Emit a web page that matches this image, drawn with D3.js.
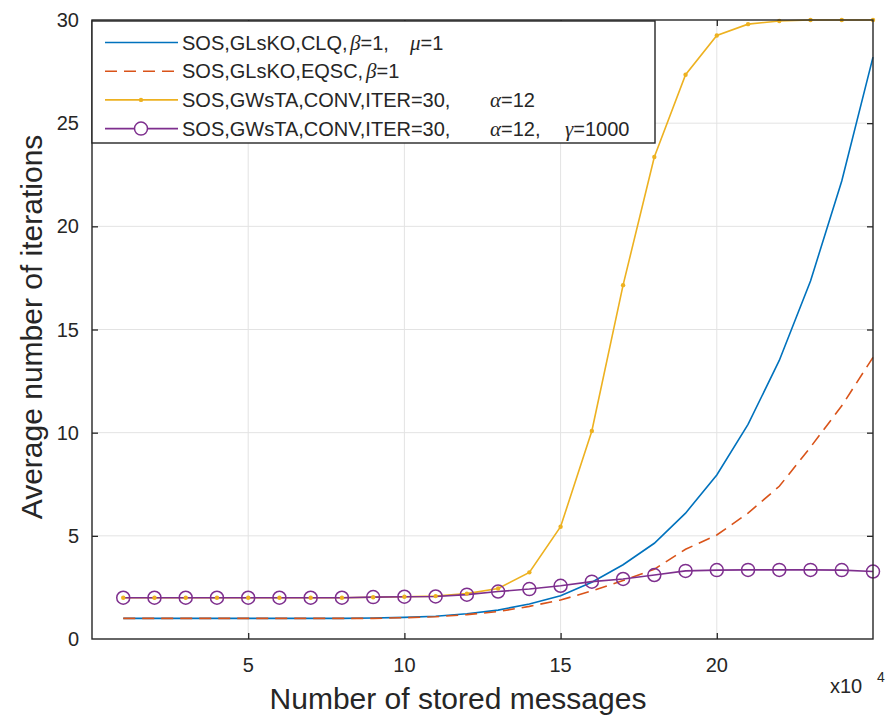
<!DOCTYPE html>
<html>
<head>
<meta charset="utf-8">
<script src="https://cdn.jsdelivr.net/npm/d3@7"></script>
<style>
  body { margin: 0; background: #fff; }
  text { font-family: "Liberation Sans", Arial, sans-serif; fill: #262626; }
  .greek { font-family: "Liberation Serif", "Times New Roman", serif; font-style: italic; }
</style>
</head>
<body>
<div id="chart"></div>
<script>
// x in units of 10^4 stored messages
var xs = [1, 2, 3, 4, 5, 6, 7, 8, 9, 10, 11, 12, 13, 14, 15, 16, 17, 18, 19, 20, 21, 22, 23, 24, 25];

var clq = [1.0, 1.0, 1.0, 1.0, 1.0, 1.0, 1.0, 1.0, 1.02, 1.05, 1.1, 1.22, 1.4, 1.7, 2.1, 2.75, 3.6, 4.64, 6.1, 7.95, 10.4, 13.5, 17.35, 22.2, 28.2];
var eqsc = [1.0, 1.0, 1.0, 1.0, 1.0, 1.0, 1.0, 1.0, 1.0, 1.03, 1.08, 1.18, 1.33, 1.58, 1.89, 2.33, 2.83, 3.38, 4.35, 5.04, 6.1, 7.4, 9.3, 11.3, 13.65];
var conv = [2.0, 2.0, 2.0, 2.0, 2.0, 2.0, 2.0, 2.0, 2.02, 2.05, 2.08, 2.2, 2.45, 3.23, 5.44, 10.08, 17.15, 23.36, 27.35, 29.25, 29.8, 29.95, 30, 30, 30];
var convGamma = [2.0, 2.0, 2.0, 2.0, 2.0, 2.0, 2.0, 2.0, 2.03, 2.05, 2.06, 2.15, 2.3, 2.42, 2.58, 2.78, 2.91, 3.1, 3.3, 3.34, 3.35, 3.35, 3.35, 3.34, 3.27];

var xTicks = [5, 10, 15, 20];
var yTicks = [0, 5, 10, 15, 20, 25, 30];

var width = 889, height = 716;
// plot box (note: "top" is a reserved window property, so use m* names)
var mL = 92, mR = 873, mT = 20, mB = 639;

var svg = d3.select("#chart").append("svg")
  .attr("width", width)
  .attr("height", height);

var x = d3.scaleLinear().domain([0, 25]).range([mL, mR]);
var y = d3.scaleLinear().domain([0, 30]).range([mB, mT]);

// grid
var grid = svg.append("g").attr("stroke", "#e3e3e3").attr("stroke-width", 1);
grid.selectAll(".gx").data(xTicks).join("line")
  .attr("x1", d => x(d)).attr("x2", d => x(d))
  .attr("y1", mT).attr("y2", mB);
grid.selectAll(".gy").data(yTicks.slice(1, -1)).join("line")
  .attr("y1", d => y(d)).attr("y2", d => y(d))
  .attr("x1", mL).attr("x2", mR);

// series
var series = [
  { name: "clq", vals: clq, color: "#0072BD", dash: null },
  { name: "eqsc", vals: eqsc, color: "#D95319", dash: "12,7" },
  { name: "conv", vals: conv, color: "#EDB120", dash: null },
  { name: "convg", vals: convGamma, color: "#7E2F8E", dash: null }
];

var line = d3.line()
  .x((d, i) => x(xs[i]))
  .y(d => y(d));

var plot = svg.append("g");
series.forEach(function(s) {
  plot.append("path")
    .datum(s.vals)
    .attr("fill", "none")
    .attr("stroke", s.color)
    .attr("stroke-width", 1.6)
    .attr("stroke-dasharray", s.dash)
    .attr("d", line);
});

// yellow dot markers
plot.selectAll(".dot").data(conv).join("circle")
  .attr("cx", (d, i) => x(xs[i]))
  .attr("cy", d => y(d))
  .attr("r", 2.2)
  .attr("fill", "#EDB120");

// purple circle markers
plot.selectAll(".ring").data(convGamma).join("circle")
  .attr("cx", (d, i) => x(xs[i]))
  .attr("cy", d => y(d))
  .attr("r", 6.5)
  .attr("fill", "none")
  .attr("stroke", "#7E2F8E")
  .attr("stroke-width", 1.5);

// axes box with inner ticks
var axisColor = "#262626";
var axG = svg.append("g");
axG.append("g").attr("transform", `translate(0,${mB})`)
  .call(d3.axisBottom(x).tickValues(xTicks).tickSize(-6).tickFormat(""));
axG.append("g").attr("transform", `translate(0,${mT})`)
  .call(d3.axisTop(x).tickValues(xTicks).tickSize(-6).tickFormat(""));
axG.append("g").attr("transform", `translate(${mL},0)`)
  .call(d3.axisLeft(y).tickValues(yTicks.slice(1, -1)).tickSize(-6).tickFormat(""));
axG.append("g").attr("transform", `translate(${mR},0)`)
  .call(d3.axisRight(y).tickValues(yTicks.slice(1, -1)).tickSize(-6).tickFormat(""));
axG.selectAll(".domain").remove();
axG.selectAll("line").attr("stroke", axisColor).attr("stroke-width", 1.3);
svg.append("rect")
  .attr("x", mL).attr("y", mT)
  .attr("width", mR - mL).attr("height", mB - mT)
  .attr("fill", "none").attr("stroke", axisColor).attr("stroke-width", 1.4);

// tick labels
svg.selectAll(".xl").data(xTicks).join("text")
  .attr("x", d => x(d)).attr("y", 672)
  .attr("text-anchor", "middle")
  .attr("font-size", 20)
  .text(d => d);
svg.selectAll(".yl").data(yTicks).join("text")
  .attr("x", 79).attr("y", d => y(d) + 7)
  .attr("text-anchor", "end")
  .attr("font-size", 20)
  .text(d => d);

// exponent
svg.append("text").attr("x", 830).attr("y", 693).attr("font-size", 20).text("x10");
svg.append("text").attr("x", 877).attr("y", 682).attr("font-size", 14).text("4");

// axis titles
svg.append("text")
  .attr("x", 458).attr("y", 709)
  .attr("text-anchor", "middle").attr("font-size", 30)
  .text("Number of stored messages");
svg.append("text")
  .attr("transform", `translate(42,327) rotate(-90)`)
  .attr("text-anchor", "middle").attr("font-size", 30)
  .text("Average number of iterations");

// legend
var legend = svg.append("g");
legend.append("rect")
  .attr("x", mL).attr("y", mT + 1)
  .attr("width", 563).attr("height", 122)
  .attr("fill", "#fff").attr("stroke", axisColor).attr("stroke-width", 1.4);

// [text, greek?, x start (null = follow on)]
var legendText = [
  [["SOS,GLsKO,CLQ,", 0, null], ["\u03b2", 1, 350], ["=1,", 0, null], ["\u03bc", 1, 410], ["=1", 0, null]],
  [["SOS,GLsKO,EQSC,", 0, null], ["\u03b2", 1, 366], ["=1", 0, null]],
  [["SOS,GWsTA,CONV,ITER=30,", 0, null], ["\u03b1", 1, 490], ["=12", 0, null]],
  [["SOS,GWsTA,CONV,ITER=30,", 0, null], ["\u03b1", 1, 490], ["=12,", 0, null], ["\u03b3", 1, 565], ["=1000", 0, null]]
];

series.forEach(function(s, i) {
  var ly = 42.5 + i * 28.7;
  legend.append("line")
    .attr("x1", 105).attr("x2", 178).attr("y1", ly).attr("y2", ly)
    .attr("stroke", s.color).attr("stroke-width", 1.6)
    .attr("stroke-dasharray", s.dash);
  if (s.name == "conv") {
    legend.append("circle").attr("cx", 141).attr("cy", ly).attr("r", 2.2).attr("fill", s.color);
  }
  if (s.name == "convg") {
    legend.append("circle").attr("cx", 141).attr("cy", ly).attr("r", 6.5)
      .attr("fill", "#fff").attr("stroke", s.color).attr("stroke-width", 1.5);
  }
  var t = legend.append("text")
    .attr("x", 182).attr("y", ly + 7)
    .attr("font-size", 20);
  legendText[i].forEach(function(p) {
    var sp = t.append("tspan")
      .attr("class", p[1] ? "greek" : null)
      .attr("font-size", p[1] ? 21 : 20)
      .text(p[0]);
    if (p[2] != null) sp.attr("x", p[2]);
  });
});
</script>
</body>
</html>
